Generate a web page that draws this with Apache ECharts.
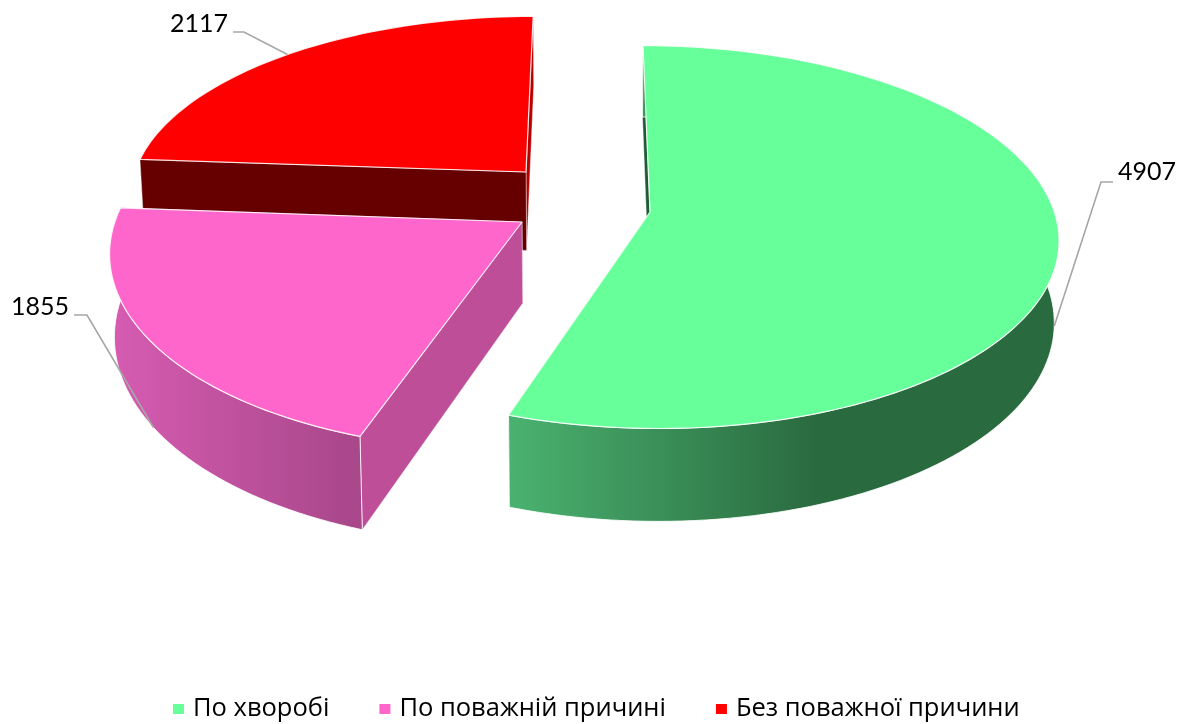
<!DOCTYPE html>
<html>
<head>
<meta charset="utf-8">
<style>
  html, body { margin: 0; padding: 0; background: #fff; }
  #chart { width: 1189px; height: 724px; }
</style>
<script src="https://cdn.jsdelivr.net/npm/echarts@6/dist/echarts.min.js"></script>
</head>
<body>
<div id="chart"></div>
<script>
var categories = ['По хворобі', 'По поважній причині', 'Без поважної причини'];
var values = [4907, 1855, 2117];
var topColors = ['#66FF99', '#FF66CC', '#FF0000'];

// 3d look of the pie: a plane seen through a simple perspective
var px = 590, py = 200;
var radiusX = 397, radiusY = 185, depth = 80;
var persp = 0.13, floorScale = 0.99;

// where the tip of each exploded slice lands on screen, its size and colours
var slices = [
  { tip: [650, 212], rx: 1.01, ry: 1, z: 2, wallStart: '#1f5a36', wallEnd: '#3d8f5c', sideStops: ['#4ab270', '#2a6a3f', '#2a6a3f'], stopAt: 0.56 },
  { tip: [522, 222], rx: 1.01, ry: 1.035, z: 3, wallStart: '#bf4e98', wallEnd: '#bf4e98', sideStops: ['#d65cb2', '#a8478a', '#a8478a'], stopAt: 0.98 },
  { tip: [526, 172], rx: 1.005, ry: 0.985, z: 1, wallStart: '#660000', wallEnd: '#b80000', sideStops: ['#990000', '#660000', '#660000'], stopAt: 0.5 }
];
var labels = [
  { x: 1118, y: 172, elbow: [1101, 182], end: [1113, 182], onFloor: true },
  { x: 11, y: 307, elbow: [87, 315], end: [74, 315], onFloor: true },
  { x: 170, y: 24, elbow: [244, 32], end: [233, 32], onFloor: false }
];

var total = values.reduce(function (a, b) { return a + b; }, 0);

function project(u, v, floor) {
  var w = 1 - persp * v;
  var s = floor ? floorScale : 1;
  return [
    px + radiusX * u / w * s,
    py + radiusY * v / w + (floor ? depth / w : 0)
  ];
}

// screen position of a tip back to plane coordinates
function unproject(p) {
  var t = p[1] - py;
  var v = t / (radiusY + persp * t);
  return [(p[0] - px) * (1 - persp * v) / radiusX, v];
}

function rimPoint(o, s, deg, floor) {
  var a = deg * Math.PI / 180;
  return project(o[0] + s.rx * Math.sin(a), o[1] - s.ry * Math.cos(a), floor);
}

function renderSlice(params) {
  var idx = params.seriesIndex;
  var before = 0;
  for (var i = 0; i < idx; i++) before += values[i];
  var start = before / total * 360;
  var end = (before + values[idx]) / total * 360;
  var s = slices[idx];
  var o = unproject(s.tip);

  var tipTop = project(o[0], o[1], false);
  var tipFloor = project(o[0], o[1], true);
  var arcTop = [], arcFloor = [];
  for (var d = start; d < end; d += 1.5) {
    arcTop.push(rimPoint(o, s, d, false));
    arcFloor.push(rimPoint(o, s, d, true));
  }
  arcTop.push(rimPoint(o, s, end, false));
  arcFloor.push(rimPoint(o, s, end, true));
  var n = arcTop.length - 1;

  var edge = { stroke: 'rgba(255,255,255,0.85)', lineWidth: 1, lineJoin: 'round' };
  var softEdge = { stroke: 'rgba(255,255,255,0.4)', lineWidth: 1, lineJoin: 'round' };
  var walls = [
    {
      type: 'polygon',
      shape: { points: [tipTop, arcTop[n], arcFloor[n], tipFloor] },
      style: Object.assign({ fill: s.wallEnd }, softEdge)
    },
    {
      type: 'polygon',
      shape: { points: [tipTop, arcTop[0], arcFloor[0], tipFloor] },
      style: Object.assign({ fill: s.wallStart }, softEdge)
    }
  ];
  var side = {
    type: 'polygon',
    shape: { points: arcTop.concat(arcFloor.slice().reverse()) },
    style: Object.assign({
      fill: new echarts.graphic.LinearGradient(0, 0, 1, 0, [
        { offset: 0, color: s.sideStops[0] },
        { offset: s.stopAt, color: s.sideStops[1] },
        { offset: 1, color: s.sideStops[2] }
      ])
    }, edge)
  };
  // slices at the back have their rim behind the cut walls
  var children = o[1] < 0 ? [side].concat(walls) : walls.concat([side]);
  children.push({
    type: 'polygon',
    shape: { points: [tipTop].concat(arcTop) },
    style: Object.assign({ fill: topColors[idx] }, edge, { lineWidth: 1.2 })
  });

  // leader line and value
  var lb = labels[idx];
  var anchor = rimPoint(o, s, (start + end) / 2, lb.onFloor);
  children.push({
    type: 'polyline',
    shape: { points: [lb.end, lb.elbow, anchor] },
    style: { fill: null, stroke: '#a6a6a6', lineWidth: 1.6 }
  });
  children.push({
    type: 'text',
    style: {
      x: lb.x,
      y: lb.y,
      text: String(values[idx]),
      fill: '#000',
      font: '25px Lato',
      verticalAlign: 'middle'
    }
  });
  return { type: 'group', children: children };
}

var myChart = echarts.init(document.getElementById('chart'));
var series = categories.map(function (name, i) {
  return {
    name: name,
    type: 'custom',
    coordinateSystem: 'none',
    renderItem: renderSlice,
    itemStyle: { color: topColors[i] },
    z: slices[i].z,
    animation: false,
    silent: true,
    clip: false,
    data: [[values[i]]]
  };
});

var option = {
  backgroundColor: '#fff',
  animation: false,
  legend: {
    data: categories,
    left: 168,
    top: 691,
    icon: 'rect',
    itemWidth: 11,
    itemHeight: 10,
    itemGap: 50,
    textStyle: {
      color: '#000',
      fontFamily: 'Open Sans',
      fontSize: 25.5,
      padding: [0, 0, 0, 4]
    }
  },
  series: series
};
myChart.setOption(option);
window.addEventListener('resize', function () {
  myChart.resize();
});
</script>
</body>
</html>
